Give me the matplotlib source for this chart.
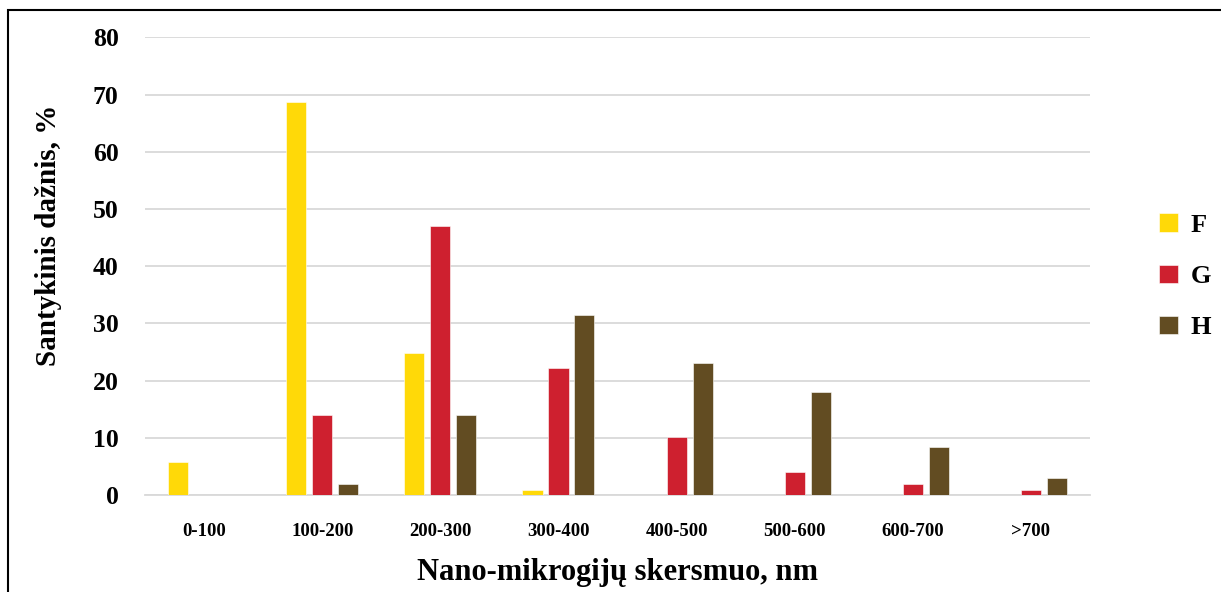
import numpy as np
import matplotlib.pyplot as plt
from matplotlib.patches import Rectangle

# data
categories = ['0-100', '100-200', '200-300', '300-400', '400-500', '500-600', '600-700', '>700']
F = [5.8, 68.7, 24.8, 0.9, 0, 0, 0, 0]
G = [0, 14.0, 47.1, 22.2, 10.1, 4.0, 1.9, 0.8]
H = [0, 1.9, 14.0, 31.5, 23.0, 18.0, 8.3, 2.9]
series_names = ['F', 'G', 'H']
colors = ['#FFD908', '#CE202F', '#624C22']

plt.rcParams['font.family'] = ['Liberation Serif', 'DejaVu Serif']
plt.rcParams['font.weight'] = 'bold'

fig = plt.figure(figsize=(12.21, 5.92), dpi=100)
ax = fig.add_axes([0.1188, 0.1639, 0.7739, 0.7729])

x = np.arange(len(categories))
w = 0.17
step = 0.22
for i, (vals, name, c) in enumerate(zip([F, G, H], series_names, colors)):
    ax.bar(x + (i - 1) * step, vals, width=w, color=c, edgecolor='white',
           linewidth=0.4, label=name, zorder=3)

ax.set_xlim(-0.5, len(categories) - 0.5)
ax.set_ylim(0, 80)
ax.set_yticks(range(0, 81, 10))
ax.set_xticks(x)
ax.set_xticklabels(categories, fontsize=13.5, fontweight='bold')
ax.tick_params(axis='y', labelsize=18.5, length=0, pad=19)
ax.tick_params(axis='x', length=0, pad=20)
for t in ax.get_yticklabels():
    t.set_fontweight('bold')

ax.grid(axis='y', color='#d9d9d9', linewidth=1.3, zorder=0)
for s in ['top', 'right', 'left']:
    ax.spines[s].set_visible(False)
ax.spines['bottom'].set_color('#d9d9d9')
ax.spines['bottom'].set_linewidth(1.3)

ax.set_xlabel('Nano-mikrogijų skersmuo, nm', fontsize=22, fontweight='bold', labelpad=13)
ax.set_ylabel('Santykinis dažnis, %', fontsize=21, fontweight='bold')
ax.yaxis.set_label_coords(-0.088, 0.568)

ax.legend(loc='center left', bbox_to_anchor=(1.048, 0.478), frameon=False,
          prop={'size': 19, 'weight': 'bold'}, handlelength=0.7, handleheight=0.7,
          handletextpad=0.5, labelspacing=1.05)

fig.patches.append(Rectangle((8 / 1221, -0.1), 1.2, 1 - 10 / 592 + 0.1,
                             transform=fig.transFigure, fill=False,
                             edgecolor='black', linewidth=1.5))

fig.savefig('out.png', dpi=100)
